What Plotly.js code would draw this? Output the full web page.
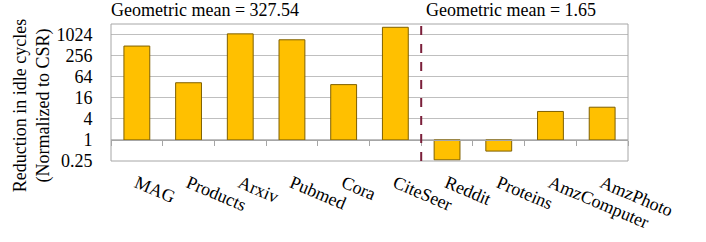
<!DOCTYPE html>
<html><head><meta charset="utf-8">
<script src="https://cdn.plot.ly/plotly-3.0.1.min.js"></script>
<style>html,body{margin:0;padding:0;background:#fff}#chart{width:706px;height:242px}</style>
</head><body><div id="chart"></div>
<script>
const categories = ['MAG','Products','Arxiv','Pubmed','Cora','CiteSeer','Reddit','Proteins','AmzComputer','AmzPhoto'];
const reduction = [480, 43, 1070, 725, 38, 1650, 0.27, 0.48, 6.5, 8.6];
const yTickVals = [0.25, 1, 4, 16, 64, 256, 1024];
const yTickText = ['0.25', '1', '4', '16', '64', '256', '1024'];
const meanLabels = ['Geometric mean = 327.54', 'Geometric mean = 1.65'];
const yTitle = 'Reduction in idle cycles<br>(Normalized to CSR)';
const baseline = 1;
const yMin = 0.25, yMax = 2048;

const FAM = 'Liberation Serif';
const font = {family: FAM, color: '#000', size: 18};
const logMin = Math.log10(yMin), logMax = Math.log10(yMax);
const basePos = (Math.log10(baseline) - logMin) / (logMax - logMin);

const trace = {
  type: 'bar',
  x: categories,
  y: reduction.map(v => v - baseline),
  base: baseline,
  width: 0.5,
  marker: {color: '#FFC000', line: {color: '#7F6000', width: 1}},
  hoverinfo: 'x+text',
  text: reduction.map(String),
  textposition: 'none'
};

const layout = {
  width: 706, height: 242,
  margin: {l: 111, r: 78, t: 24, b: 81},
  paper_bgcolor: '#fff', plot_bgcolor: '#fff',
  font: font,
  showlegend: false,
  xaxis: {
    type: 'category', range: [-0.5, 9.5],
    anchor: 'free', position: basePos,
    showline: true, linecolor: '#A6A6A6', linewidth: 1,
    ticks: 'outside', tickson: 'boundaries', ticklen: 5, tickcolor: '#A6A6A6',
    tickangle: 23, ticklabelstandoff: 25,
    tickfont: {family: FAM, size: 18, color: '#000'},
    showgrid: false, zeroline: false, fixedrange: true
  },
  yaxis: {
    type: 'log', range: [logMin, logMax],
    tickvals: yTickVals, ticktext: yTickText,
    ticks: 'outside', ticklen: 0, ticklabelstandoff: 14,
    tickfont: {family: FAM, size: 18, color: '#000'},
    showgrid: true, gridcolor: '#BFBFBF', gridwidth: 1.2,
    showline: false, zeroline: false, fixedrange: true
  },
  shapes: [
    {type: 'rect', xref: 'paper', yref: 'paper', x0: 0, x1: 1, y0: 0, y1: 1, line: {color: '#A6A6A6', width: 1}},
    {type: 'line', xref: 'x', yref: 'paper', x0: 5.5, x1: 5.5, y0: 0, y1: 1.01, line: {color: '#7B1F3A', width: 2, dash: 'dash'}}
  ],
  annotations: [
    {text: meanLabels[0], xref: 'paper', yref: 'paper', x: 0.182, y: 1.1, xanchor: 'center', yanchor: 'middle', showarrow: false, font: {family: FAM, size: 18, color: '#000'}},
    {text: meanLabels[1], xref: 'paper', yref: 'paper', x: 0.774, y: 1.1, xanchor: 'center', yanchor: 'middle', showarrow: false, font: {family: FAM, size: 18, color: '#000'}},
    {text: yTitle, xref: 'paper', yref: 'paper', x: -0.1527, y: 0.40, xanchor: 'center', yanchor: 'middle', textangle: -90, showarrow: false, font: {family: FAM, size: 18, color: '#000'}}
  ]
};

Plotly.newPlot('chart', [trace], layout, {displayModeBar: false, staticPlot: true});
</script></body></html>
